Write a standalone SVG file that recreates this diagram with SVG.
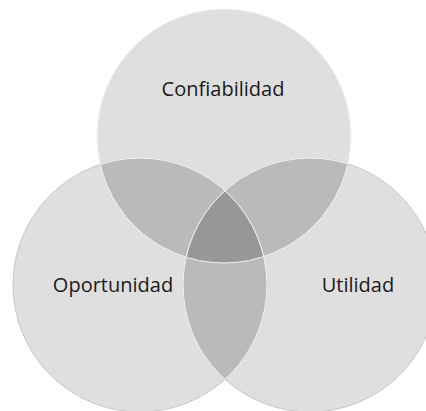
<svg xmlns="http://www.w3.org/2000/svg" width="426" height="411" viewBox="0 0 426 411">
  <style>
    .fill { fill: #dfdfdf; }
    .lens { fill: #bababa; }
    .core { fill: #979797; }
    .edge-light { fill: none; stroke: #f2f2f2; stroke-width: 1; }
    .edge-dark { fill: none; stroke: #c6c6c6; stroke-width: 1; }
    .label { font-family: "Open Sans", "DejaVu Sans", sans-serif; font-size: 20px; fill: #1a1a1a; text-anchor: middle; }
  </style>
  <defs>
    <circle id="cT" cx="224" cy="136" r="127"/>
    <circle id="cL" cx="140" cy="285" r="127"/>
    <circle id="cR" cx="310" cy="285" r="127"/>
    <clipPath id="clipT"><use href="#cT"/></clipPath>
    <clipPath id="clipL"><use href="#cL"/></clipPath>
    <clipPath id="clipR"><use href="#cR"/></clipPath>
    <clipPath id="clipTR"><use href="#cT"/><use href="#cR"/></clipPath>
    <clipPath id="clipTL"><use href="#cT"/><use href="#cL"/></clipPath>
  </defs>

  <g id="node-confiabilidad">
    <use href="#cT" class="fill"/>
  </g>
  <g id="node-oportunidad">
    <use href="#cL" class="fill"/>
  </g>
  <g id="node-utilidad">
    <use href="#cR" class="fill"/>
  </g>

  <g id="overlaps">
    <g clip-path="url(#clipT)"><use href="#cL" class="lens"/></g>
    <g clip-path="url(#clipT)"><use href="#cR" class="lens"/></g>
    <g clip-path="url(#clipL)"><use href="#cR" class="lens"/></g>
    <g clip-path="url(#clipT)"><g clip-path="url(#clipL)"><use href="#cR" class="core"/></g></g>
  </g>

  <g id="outlines">
    <use href="#cT" class="edge-light"/>
    <use href="#cL" class="edge-dark"/>
    <use href="#cR" class="edge-dark"/>
    <g clip-path="url(#clipTR)"><use href="#cL" class="edge-light"/></g>
    <g clip-path="url(#clipTL)"><use href="#cR" class="edge-light"/></g>
  </g>

  <g id="labels">
    <text class="label" x="223" y="96">Confiabilidad</text>
    <text class="label" x="113" y="292">Oportunidad</text>
    <text class="label" x="358" y="292">Utilidad</text>
  </g>
</svg>
